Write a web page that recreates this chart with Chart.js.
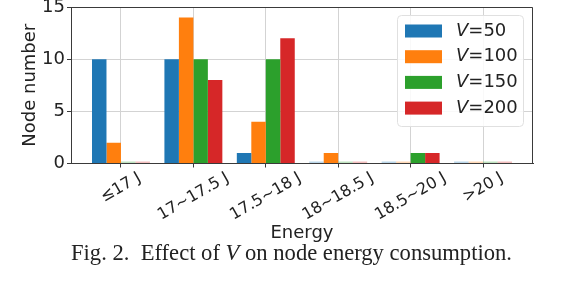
<!DOCTYPE html>
<html>
<head>
<meta charset="utf-8">
<script src="https://cdn.jsdelivr.net/npm/chart.js@4"></script>
<style>
  body { margin: 0; background: #fff; }
  #wrap { position: relative; width: 562px; height: 294px; }
  #caption {
    position: absolute; left: 71px; top: 242px;
    font: 22.6px "Liberation Serif", serif; line-height: 1;
    color: #222; white-space: pre;
  }
</style>
</head>
<body>
<div id="wrap">
  <canvas id="chart" width="562" height="294"></canvas>
  <div id="caption">Fig. 2.  Effect of <i>V</i> on node energy consumption.</div>
</div>
<script>
var categories = ['≤17 J', '17~17.5 J', '17.5~18 J', '18~18.5 J', '18.5~20 J', '>20 J'];
var seriesLabels = ['V=50', 'V=100', 'V=150', 'V=200'];
var v50  = [10, 10, 1, 0, 0, 0];
var v100 = [2, 14, 4, 1, 0, 0];
var v150 = [0, 10, 10, 0, 1, 0];
var v200 = [0, 8, 12, 0, 1, 0];
var yTicks = [0, 5, 10, 15];

var colors = ['#1f77b4', '#ff7f0e', '#2ca02c', '#d62728'];
var paleColors = ['rgba(31,119,180,0.3)', 'rgba(255,127,14,0.3)', 'rgba(44,160,44,0.3)', 'rgba(214,39,40,0.3)'];
var frameColor = '#3a3a3a';
var textColor = '#222';

function makeSet(values, k) {
    return {
        label: seriesLabels[k],
        data: values.map(function (v, i) { return {x: i, y: v}; }),
        backgroundColor: function (c) {
            return c.raw && c.raw.y === 0 ? paleColors[k] : colors[k];
        },
        borderWidth: 0,
        minBarLength: 2,
        categoryPercentage: 0.8,
        barPercentage: 1.0
    };
}

// x tick labels, rotated 30 deg and centred under each tick
var xLabels = {
    id: 'xLabels',
    afterDraw: function (chart) {
        var ctx = chart.ctx, xs = chart.scales.x;
        ctx.save();
        ctx.font = '16px "DejaVu Sans"';
        ctx.fillStyle = textColor;
        categories.forEach(function (c, i) {
            var w = ctx.measureText(c).width;
            var ext = w * 0.5 + 12 * 0.866;
            var px = xs.getPixelForValue(i);
            var cy = chart.chartArea.bottom + 8 + ext / 2;
            ctx.save();
            ctx.translate(px, cy);
            ctx.rotate(-Math.PI / 6);
            ctx.textAlign = 'center';
            ctx.textBaseline = 'middle';
            ctx.fillText(c, 0, 0);
            ctx.restore();
        });
        ctx.restore();
    }
};

// top/right spines + legend box
var frameAndLegend = {
    id: 'frameAndLegend',
    afterDraw: function (chart) {
        var ctx = chart.ctx, a = chart.chartArea;
        ctx.save();
        ctx.strokeStyle = frameColor;
        ctx.lineWidth = 1;
        ctx.beginPath();
        ctx.moveTo(a.left, a.top + 0.5);
        ctx.lineTo(a.right - 0.5, a.top + 0.5);
        ctx.lineTo(a.right - 0.5, a.bottom);
        ctx.stroke();

        var bx = a.right - 136, by = a.top + 8, bw = 126, bh = 111;
        ctx.fillStyle = 'rgba(255,255,255,0.85)';
        ctx.strokeStyle = '#e0e0e0';
        ctx.beginPath();
        ctx.roundRect(bx + 0.5, by + 0.5, bw, bh, 4);
        ctx.fill();
        ctx.stroke();

        chart.data.datasets.forEach(function (ds, k) {
            var cy = by + 16 + k * 25.7;
            ctx.fillStyle = colors[k];
            ctx.fillRect(bx + 8, cy - 6.5, 37, 13);
            ctx.fillStyle = textColor;
            ctx.textBaseline = 'middle';
            ctx.textAlign = 'left';
            ctx.font = 'italic 18px "DejaVu Sans"';
            var tx = bx + 59;
            ctx.fillText(ds.label.charAt(0), tx, cy);
            tx += ctx.measureText(ds.label.charAt(0)).width;
            ctx.font = '18px "DejaVu Sans"';
            ctx.fillText(ds.label.slice(1), tx, cy);
        });
        ctx.restore();
    }
};

var chart = new Chart(document.getElementById('chart'), {
    type: 'bar',
    data: {
        datasets: [makeSet(v50, 0), makeSet(v100, 1), makeSet(v150, 2), makeSet(v200, 3)]
    },
    options: {
        responsive: false,
        animation: false,
        layout: {padding: {left: 0, top: 7, right: 29, bottom: 50}},
        plugins: {legend: {display: false}, tooltip: {enabled: false}},
        scales: {
            x: {
                type: 'linear',
                offset: false,
                min: -0.69,
                max: 5.69,
                afterBuildTicks: function (s) {
                    s.ticks = categories.map(function (c, i) { return {value: i}; });
                },
                afterFit: function (s) {
                    s.height = 80.5;
                    s.paddingLeft = 0; s.paddingRight = 0;
                },
                ticks: {display: false},
                grid: {offset: false, color: '#d3d3d3', tickColor: frameColor, tickLength: 4, lineWidth: 1},
                border: {color: frameColor, width: 1},
                title: {
                    display: true, text: 'Energy', color: textColor,
                    font: {family: 'DejaVu Sans', size: 18},
                    padding: {top: 0, bottom: 0}
                }
            },
            y: {
                min: 0,
                max: 15,
                afterBuildTicks: function (s) {
                    s.ticks = yTicks.map(function (v) { return {value: v}; });
                },
                afterFit: function (s) {
                    s.width = 71;
                    s.paddingTop = 0; s.paddingBottom = 0;
                },
                ticks: {
                    color: textColor, padding: 2,
                    font: {family: 'DejaVu Sans', size: 18}
                },
                grid: {color: '#d3d3d3', tickColor: frameColor, tickLength: 4, lineWidth: 1},
                border: {color: frameColor, width: 1},
                title: {
                    display: true, text: 'Node number', color: textColor,
                    font: {family: 'DejaVu Sans', size: 18},
                    padding: {top: 20, bottom: 0}
                }
            }
        }
    },
    plugins: [xLabels, frameAndLegend]
});
</script>
</body>
</html>
